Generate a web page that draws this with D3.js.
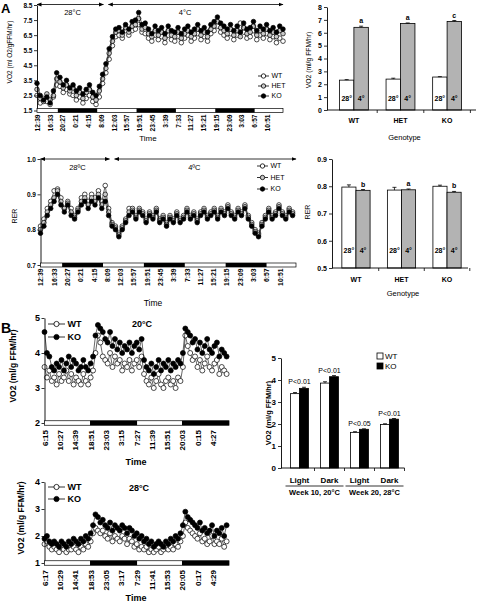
<!DOCTYPE html>
<html><head><meta charset="utf-8">
<script src="https://cdn.jsdelivr.net/npm/d3@7"></script>
<style>body{margin:0;background:#fff}svg{display:block}</style>
</head><body>
<svg id="chart" width="477" height="602"></svg>
<script>
// ---------------- DATA ----------------
const seriesNamesA = ["WT","HET","KO"];
const timeTicksA = ["12:39","16:33","20:27","0:21","4:15","8:09","12:03","15:57","19:51","23:45","3:39","7:33","11:27","15:21","19:15","23:09","3:03","6:57","10:51"];
const tickStepA = 234;      // minutes between time labels
const sampleStepA = 60;     // minutes between samples
const endA = 4500;
const darkA = [[381,1101],[1821,2541],[3261,3981]];
const tempsA = [{label:"28°C", from:0, to:1215, at:650},{label:"4°C", from:1305, to:4500, at:2710}];
const tempsRER = [{label:"28ºC", from:0, to:1215, at:650},{label:"4ºC", from:1305, to:4500, at:2710}];

const vo2KO = [3.3,2.5,2.2,2.4,2.0,2.8, 4.0,3.7,3.2,3.5, 3.0,3.2,2.8,3.0,2.6, 2.9,3.2,2.7,2.5, 3.1,3.9,4.6,5.6,6.4,6.9, 7.0,6.7,7.2,6.9,7.4, 7.5,8.0,7.2,7.3, 6.9,6.6,7.1,6.8,7.0,6.6,7.1,6.8,6.7,7.0,6.6,6.9, 7.1,6.7,6.9,7.2,6.8,7.0,6.7,7.2, 7.4,7.7,7.3,7.1,6.9, 7.2,6.8,7.1,6.7,7.3,6.9,7.0,7.4,6.8,7.1,6.9,7.2,6.8,7.0,6.7,7.1,6.9];
const vo2HET = [2.9,2.3,2.1,2.6,2.2,2.5, 3.6,3.4,3.0,3.2, 2.8,3.0,2.5,2.7,2.3, 2.7,2.9,2.4,2.2, 2.8,3.6,4.3,5.3,6.1,6.7, 6.8,6.5,7.0,6.7,7.1, 7.2,7.6,6.9,7.0, 6.6,6.4,6.8,6.5,6.7,6.3,6.8,6.5,6.4,6.7,6.3,6.6, 6.8,6.4,6.6,6.9,6.5,6.7,6.4,6.9, 7.1,7.4,7.0,6.8,6.6, 6.9,6.5,6.8,6.4,7.0,6.6,6.7,7.1,6.5,6.8,6.6,6.9,6.5,6.7,6.4,6.8,6.6];
const vo2WT = [2.5,2.0,2.3,2.1,1.9,2.4, 3.2,3.1,2.7,2.9, 2.6,2.5,2.2,2.4,2.0, 2.3,2.5,2.1,1.9, 2.4,3.3,4.0,4.9,5.8,6.4, 6.5,6.3,6.8,6.5,6.8, 6.9,7.2,6.7,6.6, 6.3,6.1,6.5,6.2,6.4,6.0,6.5,6.2,6.1,6.4,6.0,6.3, 6.5,6.1,6.3,6.6,6.2,6.4,6.1,6.6, 6.8,7.1,6.7,6.5,6.3, 6.6,6.2,6.5,7.3,6.7,6.3,6.4,6.8,6.2,6.5,6.3,6.6,6.2,6.4,6.0,6.3,6.1];

const rerKO = [0.79,0.81,0.84,0.86,0.88,0.90, 0.87,0.85,0.87,0.84,0.83, 0.85,0.87,0.88,0.86,0.88, 0.87,0.89,0.86,0.88,0.84, 0.81,0.80,0.78,0.80,0.82, 0.84,0.85,0.83,0.85,0.84, 0.82,0.84,0.83,0.85,0.82, 0.83,0.81,0.83,0.82,0.84, 0.82,0.83,0.85,0.83,0.84, 0.82,0.84,0.85,0.83,0.84, 0.85,0.83,0.85,0.84,0.86, 0.84,0.83,0.85,0.84,0.86, 0.83,0.81,0.79,0.78,0.81, 0.83,0.85,0.83,0.84,0.86, 0.84,0.83,0.85,0.84];
const rerWT = [0.81,0.83,0.86,0.88,0.91,0.915, 0.89,0.86,0.88,0.86, 0.84,0.86,0.89,0.90,0.88, 0.90,0.89,0.91,0.88,0.925, 0.86,0.82,0.81,0.79,0.81, 0.83,0.86,0.86,0.84,0.86, 0.85,0.83,0.85,0.84,0.86, 0.83,0.84,0.82,0.84,0.83, 0.85,0.83,0.84,0.86,0.84, 0.85,0.83,0.85,0.86,0.84, 0.85,0.86,0.84,0.86,0.85, 0.87,0.85,0.84,0.86,0.85, 0.87,0.84,0.82,0.80,0.79, 0.82,0.84,0.86,0.84,0.85, 0.87,0.85,0.84,0.86,0.85];
const rerHET = [0.80,0.82,0.85,0.87,0.89,0.91, 0.88,0.86,0.875,0.85, 0.835,0.855,0.88,0.89,0.87, 0.89,0.88,0.90,0.87,0.90, 0.85,0.815,0.805,0.785,0.805, 0.825,0.85,0.855,0.835,0.855, 0.845,0.825,0.845,0.835,0.855, 0.825,0.835,0.815,0.835,0.825, 0.845,0.825,0.835,0.855,0.835, 0.845,0.825,0.845,0.855,0.835, 0.845,0.855,0.835,0.855,0.845, 0.865,0.845,0.835,0.855,0.845, 0.865,0.835,0.815,0.795,0.785, 0.815,0.835,0.855,0.835,0.845, 0.865,0.845,0.835,0.855,0.845];

const genotypes = ["WT","HET","KO"];
const tempConds = ["28°","4°"];
const vo2Bar28 = [2.32,2.40,2.56], vo2Bar28Err = [0.04,0.07,0.03];
const vo2Bar4 = [6.42,6.72,6.88], vo2Bar4Err = [0.09,0.04,0.07];
const vo2BarLetters = ["a","a","c"];
const rerBar28 = [0.797,0.786,0.800], rerBar28Err = [0.008,0.010,0.004];
const rerBar4 = [0.785,0.787,0.778], rerBar4Err = [0.003,0.003,0.003];
const rerBarLetters = ["b","a","b"];

const seriesNamesB = ["WT","KO"];
const timeTicksB20 = ["6:15","10:27","14:39","18:51","23:03","3:15","7:27","11:39","15:51","20:03","0:15","4:27"];
const timeTicksB28 = ["6:17","10:29","14:41","18:53","23:05","3:17","7:29","11:41","15:53","20:05","0:17","4:29"];
const tickStepB = 252, sampleStepB = 40, endB = 3040;
const darkB = [[750,1525],[2265,3040]];
const ko20 = [4.6,4.0,3.9,3.6, 3.5,3.7,3.6,3.8,3.5,3.7,3.9,3.6,3.8,3.7,3.5,3.6,3.8,3.6,3.5,3.7, 3.9, 4.5,4.8,4.7,4.6, 4.4,4.3,4.6,4.2,4.4,4.1,4.3,4.0,4.2,4.1,4.3,4.0,4.2,4.3,4.1,4.4, 3.8,3.6,3.5,3.7,3.4,3.6,3.8,3.5,3.7,3.6,3.8,3.5,3.7,3.6,3.8,3.7, 4.0,4.7,4.6,4.5, 4.3,4.4,4.1,4.3,4.0,4.2,4.4,4.1,4.0,4.2,4.3,3.9,4.1,4.0,3.9];
const wt20 = [3.6,3.3,3.5,3.2, 3.3,3.1,3.4,3.2,3.3,3.5,3.2,3.4,3.1,3.3,3.2,3.1,3.4,3.2,3.1,3.3, 3.5, 4.0,4.5,4.3,3.9, 3.8,3.7,4.0,3.6,3.9,3.7,3.8,3.5,3.7,3.6,3.8,3.5,3.7,3.8,3.6,3.9, 3.4,3.2,3.1,3.3,3.0,3.2,3.4,3.1,3.0,3.2,3.3,3.1,3.2,3.0,3.3,3.2, 3.6,4.5,4.2,4.0, 3.8,3.9,3.6,3.8,3.5,3.7,3.9,3.6,3.5,3.7,3.8,3.4,3.6,3.5,3.4];
const ko28 = [1.9,2.0,1.8,1.7,1.8,1.7, 1.6,1.8,1.7,1.6,1.8,1.7,1.9,1.8,1.7,1.9,1.8,2.0,1.9,2.1, 2.4,2.8,2.7,2.5,2.6, 2.4,2.3,2.5,2.2,2.4,2.3,2.2,2.4,2.3,2.1,2.3,2.2,2.0,2.1,1.9,2.0, 1.8,1.9,1.7,1.8,1.6,1.7,1.8,1.7,1.6,1.8,1.7,1.9,1.8,2.0,1.9,2.1, 2.4,2.9,2.7,2.6,2.5, 2.4,2.3,2.5,2.2,2.3,2.1,2.2,2.4,2.0,2.2,2.1,2.3,2.0,2.4];
const wt28 = [1.7,1.8,1.6,1.5,1.6,1.5, 1.4,1.6,1.5,1.4,1.5,1.5,1.6,1.5,1.4,1.6,1.5,1.7,1.6,1.8, 2.1,2.3,2.2,2.1,2.2, 2.0,1.9,2.1,1.8,2.0,1.9,1.8,2.0,1.9,1.7,1.9,1.8,1.6,1.7,1.5,1.6, 1.5,1.6,1.4,1.5,1.4,1.5,1.6,1.4,1.5,1.6,1.5,1.6,1.5,1.7,1.6,1.8, 2.0,2.5,2.3,2.2,2.1, 2.0,1.9,2.1,1.8,1.9,1.7,1.8,2.0,1.7,1.8,1.7,1.9,1.6,1.8];

const periods = ["Light","Dark","Light","Dark"];
const weeks = ["Week 10, 20°C","Week 20, 28°C"];
const bWT = [3.38,3.86,1.62,1.98], bWTErr = [0.05,0.06,0.03,0.03];
const bKO = [3.62,4.15,1.76,2.22], bKOErr = [0.05,0.05,0.02,0.03];
const bP = ["P<0.01","P<0.01","P<0.05","P<0.01"];

// ---------------- DRAWING ----------------
const F = '"Liberation Sans", Arial, sans-serif';
const svg = d3.select("#chart");
svg.append("rect").attr("width",477).attr("height",602).attr("fill","#fff");
const defs = svg.append("defs");
defs.append("marker").attr("id","arr").attr("viewBox","0 0 10 10").attr("refX",9).attr("refY",5)
  .attr("markerUnits","userSpaceOnUse").attr("markerWidth",5).attr("markerHeight",5)
  .attr("orient","auto-start-reverse")
  .append("path").attr("d","M0,1L10,5L0,9Z").attr("fill","#000");

function label(g, x, y, s, size, o = {}) {
  const t = g.append("text").attr("x", x).attr("y", y).text(s)
    .attr("font-family", F).attr("font-size", size)
    .attr("font-weight", o.bold ? "bold" : "normal")
    .attr("text-anchor", o.anchor || "middle").attr("fill", "#000");
  if (o.rot) t.attr("dy", "0.35em").attr("transform", `rotate(-90 ${x} ${y})`);
  if (o.mid) t.attr("dy", "0.35em");
  return t;
}
function styleAxis(ax, size, bold) {
  ax.select(".domain").attr("stroke", "#000").attr("stroke-width", 0.9);
  ax.selectAll(".tick line").attr("stroke", "#000").attr("stroke-width", 0.8);
  ax.selectAll("text").attr("font-family", F).attr("font-size", size)
    .attr("font-weight", bold ? "bold" : "normal").attr("fill", "#000");
}

function timeSeries(c) {
  const g = svg.append("g");
  const x = d3.scaleLinear().domain([0, c.end]).range([c.x0, c.x1]);
  const y = d3.scaleLinear().domain(c.yDom).range([c.yb, c.yt]);
  c.series.forEach(s => {
    const line = d3.line().x((d, i) => x(i * c.step)).y(d => y(d));
    g.append("path").attr("d", line(s.values)).attr("fill", "none")
      .attr("stroke", "#000").attr("stroke-width", 0.6);
    g.selectAll(null).data(s.values).join("circle")
      .attr("cx", (d, i) => x(i * c.step)).attr("cy", d => y(d)).attr("r", c.r)
      .attr("fill", s.fill).attr("stroke", "#000").attr("stroke-width", 0.7);
  });
  const ax = g.append("g").attr("transform", `translate(${c.x0},0)`)
    .call(d3.axisLeft(y).tickValues(c.yTicks).tickFormat(d3.format(c.yFmt))
      .tickSize(3).tickPadding(1.5).tickSizeOuter(0));
  styleAxis(ax, c.yFs, c.bold);
  const bh = c.barH;
  g.append("rect").attr("x", x(0)).attr("y", c.yb - bh / 2).attr("width", x(c.end) - x(0))
    .attr("height", bh).attr("fill", "#fff").attr("stroke", "#000").attr("stroke-width", 0.7);
  g.selectAll(null).data(c.dark).join("rect")
    .attr("x", d => x(d[0])).attr("y", c.yb - bh / 2)
    .attr("width", d => x(d[1]) - x(d[0])).attr("height", bh).attr("fill", "#000");
  const xa = g.append("g").attr("transform", `translate(0,${c.labelY})`)
    .call(d3.axisBottom(x).tickValues(c.ticks.map((d, i) => i * c.tickStep))
      .tickFormat((d, i) => c.ticks[i]).tickSize(0).tickPadding(0));
  xa.select(".domain").remove();
  xa.selectAll("text").attr("transform", "rotate(-90)").attr("text-anchor", "end")
    .attr("x", 0).attr("y", 0).attr("dy", "0.35em")
    .attr("font-family", F).attr("font-size", c.xFs)
    .attr("font-weight", c.bold ? "bold" : "normal").attr("fill", "#000");
  return { g, x, y };
}

function legend(g, x, y, dy, items, size, r, bold, len) {
  items.forEach((it, i) => {
    const yy = y + i * dy;
    g.append("line").attr("x1", x).attr("x2", x + len).attr("y1", yy).attr("y2", yy)
      .attr("stroke", "#000").attr("stroke-width", 0.8);
    g.append("circle").attr("cx", x + len / 2).attr("cy", yy).attr("r", r)
      .attr("fill", it.fill).attr("stroke", "#000").attr("stroke-width", 0.8);
    label(g, x + len + 2.5, yy, it.name, size, { anchor: "start", bold, mid: true });
  });
}
function tempArrows(p, temps, yLine, yText, size) {
  temps.forEach(t => {
    p.g.append("line").attr("x1", p.x(t.from)).attr("x2", p.x(t.to)).attr("y1", yLine).attr("y2", yLine)
      .attr("stroke", "#000").attr("stroke-width", 0.8)
      .attr("marker-start", "url(#arr)").attr("marker-end", "url(#arr)");
    label(p.g, p.x(t.at), yText, t.label, size);
  });
}

label(svg, 1, 13, "A", 13, { anchor: "start", bold: true });
label(svg, 1, 333, "B", 14, { anchor: "start", bold: true });

// ---- A: VO2 time series ----
const fillsA = { WT: "#fff", HET: "#c8c8c8", KO: "#000" };
const pV = timeSeries({
  x0: 37, x1: 283, end: endA, step: sampleStepA, yDom: [1.5, 8.5], yb: 110.5, yt: 5,
  yTicks: d3.range(1.5, 8.6, 1), yFmt: ".1f", yFs: 6.5, bold: true, r: 2.3,
  barH: 4, dark: darkA, ticks: timeTicksA, tickStep: tickStepA, labelY: 114.5, xFs: 6.6,
  series: [{ values: vo2WT, fill: fillsA.WT }, { values: vo2HET, fill: fillsA.HET }, { values: vo2KO, fill: fillsA.KO }]
});
tempArrows(pV, tempsA, 4.5, 15, 7.5);
label(svg, 10, 52, "VO2 (ml O2/gFFM/hr)", 6.5, { rot: true });
label(svg, 148, 141, "Time", 8);
legend(svg, 258, 76, 10, seriesNamesA.map(n => ({ name: n, fill: fillsA[n] })), 7, 2.2, false, 11);

// ---- A: RER time series ----
const pR = timeSeries({
  x0: 40.5, x1: 296, end: endA, step: sampleStepA, yDom: [0.7, 1.0], yb: 265, yt: 159,
  yTicks: [0.7, 0.8, 0.9, 1.0], yFmt: ".1f", yFs: 6.5, bold: true, r: 2.3,
  barH: 4, dark: darkA, ticks: timeTicksA, tickStep: tickStepA, labelY: 268.5, xFs: 6.8,
  series: [{ values: rerWT, fill: fillsA.WT }, { values: rerHET, fill: fillsA.HET }, { values: rerKO, fill: fillsA.KO }]
});
tempArrows(pR, tempsRER, 159, 170, 7.5);
label(svg, 15, 216, "RER", 7, { rot: true });
label(svg, 153, 306, "Time", 8.5);
legend(svg, 257, 166, 11.5, seriesNamesA.map(n => ({ name: n, fill: fillsA[n] })), 7, 2.2, false, 11);

// ---- grouped genotype bar chart helper ----
function genoBars(c) {
  const g = svg.append("g");
  const x0 = d3.scaleBand().domain(genotypes).range(c.xr).paddingInner(0.38).paddingOuter(0.19);
  const x1 = d3.scaleBand().domain(tempConds).range([0, x0.bandwidth()]);
  const y = d3.scaleLinear().domain(c.yDom).range([c.yb, c.yt]);
  const vals = [c.v28, c.v4], errs = [c.e28, c.e4];
  genotypes.forEach((gt, gi) => {
    tempConds.forEach((tc, ti) => {
      const v = vals[ti][gi], e = errs[ti][gi];
      const bx = x0(gt) + x1(tc), bw = x1.bandwidth();
      g.append("rect").attr("x", bx).attr("y", y(v)).attr("width", bw).attr("height", y(c.yDom[0]) - y(v))
        .attr("fill", ti === 0 ? "#fff" : "#b3b3b3").attr("stroke", "#000").attr("stroke-width", 0.8);
      const cx = bx + bw / 2;
      g.append("line").attr("x1", cx).attr("x2", cx).attr("y1", y(v)).attr("y2", y(v + e)).attr("stroke", "#000").attr("stroke-width", 0.8);
      g.append("line").attr("x1", cx - 2).attr("x2", cx + 2).attr("y1", y(v + e)).attr("y2", y(v + e)).attr("stroke", "#000").attr("stroke-width", 0.8);
      label(g, cx, c.inY, tc, 7, { bold: true });
      if (ti === 1) label(g, cx, y(v + e) - 3, c.letters[gi], 7, { bold: true });
    });
  });
  const ax = g.append("g").attr("transform", `translate(${c.ax},0)`)
    .call(d3.axisLeft(y).tickValues(c.yTicks).tickFormat(d3.format(c.yFmt)).tickSize(3).tickPadding(2).tickSizeOuter(0));
  styleAxis(ax, 7, true);
  g.append("line").attr("x1", c.ax).attr("x2", c.axEnd).attr("y1", c.yb).attr("y2", c.yb).attr("stroke", "#000").attr("stroke-width", 0.9);
  genotypes.forEach(gt => {
    const tx = x0(gt) + x0.bandwidth() + x0.step() * 0.19;
    g.append("line").attr("x1", tx).attr("x2", tx).attr("y1", c.yb).attr("y2", c.yb + 3).attr("stroke", "#000").attr("stroke-width", 0.8);
  });
  const xa = g.append("g").attr("transform", `translate(0,${c.yb})`)
    .call(d3.axisBottom(x0).tickSize(0).tickPadding(c.labPad));
  xa.select(".domain").remove();
  styleAxis(xa, 7, true);
  label(g, (c.ax + c.axEnd) / 2 + 3, c.genY, "Genotype", 7.5);
  return g;
}

genoBars({
  xr: [330.6, 470.4], yDom: [0, 8], yb: 110, yt: 7, yTicks: d3.range(0, 9), yFmt: "d",
  v28: vo2Bar28, e28: vo2Bar28Err, v4: vo2Bar4, e4: vo2Bar4Err, letters: vo2BarLetters,
  inY: 101, ax: 327, axEnd: 476, labPad: 8, genY: 140
});
label(svg, 309, 60, "VO2 (ml/g FFM/hr)", 6.8, { rot: true });

genoBars({
  xr: [333.2, 469.8], yDom: [0.5, 0.9], yb: 268, yt: 159, yTicks: [0.5, 0.6, 0.7, 0.8, 0.9], yFmt: ".1f",
  v28: rerBar28, e28: rerBar28Err, v4: rerBar4, e4: rerBar4Err, letters: rerBarLetters,
  inY: 253, ax: 332, axEnd: 468, labPad: 9, genY: 296
});
label(svg, 308, 212, "RER", 7, { rot: true });

// ---- B: 20°C time series ----
const fillsB = { WT: "#fff", KO: "#000" };
const p20 = timeSeries({
  x0: 44.5, x1: 44.5 + endB * 0.0607, end: endB, step: sampleStepB, yDom: [2, 5], yb: 423, yt: 318,
  yTicks: [2, 3, 4, 5], yFmt: "d", yFs: 9, bold: true, r: 2.5,
  barH: 4.5, dark: darkB, ticks: timeTicksB20, tickStep: tickStepB, labelY: 430, xFs: 8,
  series: [{ values: wt20, fill: fillsB.WT }, { values: ko20, fill: fillsB.KO }]
});
label(svg, 142, 326.5, "20°C", 9, { bold: true });
legend(svg, 48, 324, 13, seriesNamesB.map(n => ({ name: n, fill: fillsB[n] })), 9, 2.6, true, 17);
label(svg, 13, 366, "VO2 (ml/g FFM/hr)", 8.5, { rot: true, bold: true });
label(svg, 136, 464.5, "Time", 9, { bold: true });

// ---- B: 28°C time series ----
const p28 = timeSeries({
  x0: 44.5, x1: 44.5 + endB * 0.0607, end: endB, step: sampleStepB, yDom: [1, 4], yb: 563, yt: 482,
  yTicks: [1, 2, 3, 4], yFmt: "d", yFs: 9, bold: true, r: 2.5,
  barH: 4.5, dark: darkB, ticks: timeTicksB28, tickStep: tickStepB, labelY: 570, xFs: 8,
  series: [{ values: wt28, fill: fillsB.WT }, { values: ko28, fill: fillsB.KO }]
});
label(svg, 139, 490.5, "28°C", 9, { bold: true });
legend(svg, 48, 487, 12, seriesNamesB.map(n => ({ name: n, fill: fillsB[n] })), 9, 2.6, true, 17);
label(svg, 21, 518, "VO2 (ml/g FFM/hr)", 8.5, { rot: true, bold: true });
label(svg, 136, 601, "Time", 9, { bold: true });

// ---- B: bar chart ----
(function () {
  const g = svg.append("g");
  const idx = d3.range(periods.length);
  const x0 = d3.scaleBand().domain(idx).range([284.5, 404.5]).paddingInner(0.4).paddingOuter(0.2);
  const x1 = d3.scaleBand().domain(seriesNamesB).range([0, x0.bandwidth()]);
  const y = d3.scaleLinear().domain([0, 5]).range([468, 358]);
  const vals = { WT: bWT, KO: bKO }, errs = { WT: bWTErr, KO: bKOErr };
  idx.forEach(i => {
    let top = Infinity;
    seriesNamesB.forEach(s => {
      const v = vals[s][i], e = errs[s][i];
      const bx = x0(i) + x1(s), bw = x1.bandwidth(), cx = bx + bw / 2;
      g.append("rect").attr("x", bx).attr("y", y(v)).attr("width", bw).attr("height", y(0) - y(v))
        .attr("fill", fillsB[s]).attr("stroke", "#000").attr("stroke-width", 0.8);
      g.append("line").attr("x1", cx).attr("x2", cx).attr("y1", y(v)).attr("y2", y(v + e)).attr("stroke", "#000").attr("stroke-width", 0.8);
      g.append("line").attr("x1", cx - 2).attr("x2", cx + 2).attr("y1", y(v + e)).attr("y2", y(v + e)).attr("stroke", "#000").attr("stroke-width", 0.8);
      top = Math.min(top, y(v + e));
    });
    label(g, x0(i) + x0.bandwidth() / 2, top - 3, bP[i], 7);
  });
  const ax = g.append("g").attr("transform", "translate(281,0)")
    .call(d3.axisLeft(y).tickValues(d3.range(0, 6)).tickFormat(d3.format("d")).tickSize(3).tickPadding(2).tickSizeOuter(0));
  styleAxis(ax, 8, true);
  g.append("line").attr("x1", 281).attr("x2", 404.5).attr("y1", 468).attr("y2", 468).attr("stroke", "#000").attr("stroke-width", 0.9);
  idx.forEach(i => {
    const tx = x0(i) + x0.bandwidth() + x0.step() * 0.2;
    g.append("line").attr("x1", tx).attr("x2", tx).attr("y1", 468).attr("y2", 471).attr("stroke", "#000").attr("stroke-width", 0.8);
  });
  const xa = g.append("g").attr("transform", "translate(0,468)")
    .call(d3.axisBottom(x0).tickFormat(i => periods[i]).tickSize(0).tickPadding(9));
  xa.select(".domain").remove();
  styleAxis(xa, 8, true);
  weeks.forEach((w, k) => {
    const a = x0(2 * k) - 5, b = x0(2 * k + 1) + x0.bandwidth() + 5;
    g.append("line").attr("x1", a).attr("x2", b).attr("y1", 486).attr("y2", 486).attr("stroke", "#000").attr("stroke-width", 0.8);
    label(g, (a + b) / 2, 495, w, 7.5, { bold: true });
  });
  seriesNamesB.forEach((s, k) => {
    g.append("rect").attr("x", 377).attr("y", 353 + k * 10).attr("width", 6).attr("height", 6)
      .attr("fill", fillsB[s]).attr("stroke", "#000").attr("stroke-width", 0.8);
    label(g, 385, 356 + k * 10, s, 8, { anchor: "start", mid: true });
  });
  label(g, 268, 413, "VO2 (ml/g FFM/hr)", 7.5, { rot: true, bold: true });
})();
</script>
</body></html>
